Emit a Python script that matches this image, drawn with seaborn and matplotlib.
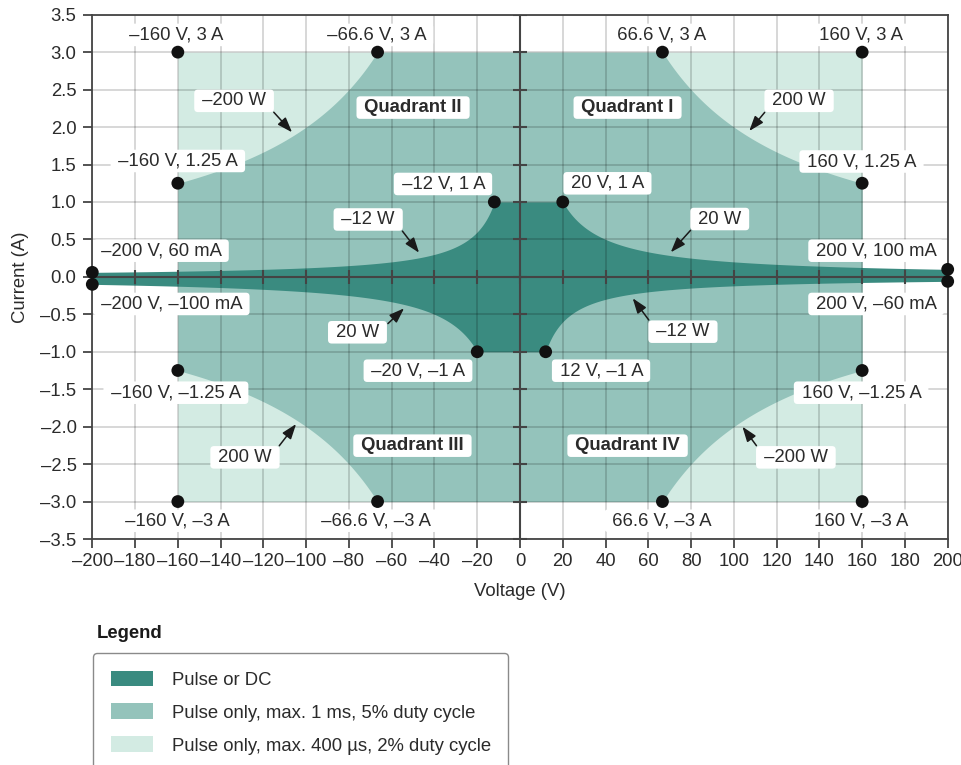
import numpy as np
import matplotlib
matplotlib.use("Agg")
import matplotlib.pyplot as plt
import seaborn as sns
from matplotlib.patches import Patch
from matplotlib.ticker import FuncFormatter

# --- data ---
# voltage / current limits
v_pulse_max = 160        # V, pulse regions end here
v_dc_max = 200           # V, DC band goes to the edge
i_pulse_max = 3.0        # A
i_dc_max = 1.0           # A
# power limits (W) per quadrant for the DC region: I, II, III, IV
dc_power = [20, 12, 20, 12]
pulse_power = 200        # W, boundary between the two pulse regions

# corner points
pt_v = [-160, -66.6, 66.6, 160, -160, 160, -12, 20, -200, -200,
        200, 200, -20, 12, -160, 160, -160, -66.6, 66.6, 160]
pt_i = [3, 3, 3, 3, 1.25, 1.25, 1, 1, 0.06, -0.1,
        0.1, -0.06, -1, -1, -1.25, -1.25, -3, -3, -3, -3]

# plain labels: text, x, y
labels = [
    ("–160 V, 3 A", -161, 3.23), ("–66.6 V, 3 A", -67.3, 3.23),
    ("66.6 V, 3 A", 66.2, 3.23), ("160 V, 3 A", 159.2, 3.23),
    ("–160 V, 1.25 A", -160, 1.547), ("160 V, 1.25 A", 159.7, 1.54),
    ("–12 V, 1 A", -36, 1.24), ("20 V, 1 A", 40.9, 1.249),
    ("–200 V, 60 mA", -167.9, 0.349), ("200 V, 100 mA", 166.5, 0.349),
    ("–200 V, –100 mA", -163, -0.362), ("200 V, –60 mA", 166.5, -0.362),
    ("–20 V, –1 A", -47.7, -1.253), ("12 V, –1 A", 37.9, -1.253),
    ("–160 V, –1.25 A", -160.9, -1.547), ("160 V, –1.25 A", 159.5, -1.547),
    ("–160 V, –3 A", -160.6, -3.256), ("–66.6 V, –3 A", -67.6, -3.256),
    ("66.6 V, –3 A", 66.2, -3.256), ("160 V, –3 A", 159.2, -3.256),
]
quadrants = [("Quadrant II", -50, 2.26), ("Quadrant I", 50.3, 2.26),
             ("Quadrant III", -50.3, -2.254), ("Quadrant IV", 50.3, -2.254)]
# arrow labels: text, x, y, tip x, tip y, arrow start on box
arrows = [
    ("–200 W", -133.7, 2.35, -106.6, 1.93, (1, 0)),
    ("200 W", 130.5, 2.35, 107.2, 1.947, (0, 0)),
    ("–12 W", -71, 0.766, -47.2, 0.322, (1, 0)),
    ("20 W", 93.4, 0.772, 70.5, 0.328, (0, 0)),
    ("20 W", -76, -0.74, -54.2, -0.42, (1, 0.8)),
    ("–12 W", 76.2, -0.732, 52.7, -0.286, (0, 1)),
    ("200 W", -128.6, -2.41, -104.7, -1.965, (1, 1)),
    ("–200 W", 129, -2.41, 104, -2.0, (0, 1)),
]
legend_labels = ["Pulse or DC", "Pulse only, max. 1 ms, 5% duty cycle",
                 "Pulse only, max. 400 µs, 2% duty cycle"]
x_ticks = np.arange(-200, 201, 20)
y_ticks = np.arange(-3.5, 3.51, 0.5)

c_dark, c_mid, c_light = "#3a8b80", "#94c3bb", "#d3ebe3"
txt = "#2b2b2b"
axc = "#444444"
fs = 13.3

sns.set_style("white")
plt.rcParams["font.family"] = ["Liberation Sans", "DejaVu Sans"]
plt.rcParams["font.size"] = fs

fig = plt.figure(figsize=(9.62, 7.65), dpi=100)
ax = fig.add_axes([92.3 / 962, 1 - 539 / 765, 855.4 / 962, 524.3 / 765])

# light region: full pulse rectangle
vp = np.linspace(-v_pulse_max, v_pulse_max, 1601)
ax.fill_between(vp, -i_pulse_max, i_pulse_max, color=c_light, lw=0, zorder=1)
# mid region: below the 200 W curve
with np.errstate(divide="ignore"):
    i_mid = np.minimum(i_pulse_max, pulse_power / np.abs(vp))
ax.fill_between(vp, -i_mid, i_mid, color=c_mid, lw=0, zorder=1.1)
# dark region: DC limits
vd = np.linspace(-v_dc_max, v_dc_max, 4001)
av = np.abs(vd)
with np.errstate(divide="ignore"):
    up = np.where(vd >= 0, np.minimum(i_dc_max, dc_power[0] / av),
                  np.minimum(i_dc_max, dc_power[1] / av))
    lo = np.where(vd >= 0, -np.minimum(i_dc_max, dc_power[3] / av),
                  -np.minimum(i_dc_max, dc_power[2] / av))
ax.fill_between(vd, lo, up, color=c_dark, lw=0, zorder=1.2)

ax.set_xlim(-200, 200)
ax.set_ylim(-3.5, 3.5)
ax.set_xticks(x_ticks)
ax.set_yticks(y_ticks)
ax.xaxis.set_major_formatter(FuncFormatter(lambda v, p: f"{v:.0f}".replace("-", "–")))
ax.yaxis.set_major_formatter(FuncFormatter(lambda v, p: f"{v:.1f}".replace("-", "–")))
ax.grid(True, color="black", alpha=0.17, lw=1.3, zorder=1.5)
ax.set_axisbelow("line")
for s in ax.spines.values():
    s.set_color(axc)
    s.set_linewidth(1.3)
    s.set_zorder(3)
ax.tick_params(direction="out", length=6.3, width=1.3, color=axc,
               labelcolor=txt, labelsize=fs, pad=4, bottom=True, left=True)
ax.tick_params(axis="y", pad=5)

# centre axes with crossing ticks
ax.axhline(0, color=axc, lw=1.5, zorder=3)
ax.axvline(0, color=axc, lw=1.5, zorder=3)
ax.plot(x_ticks, np.zeros_like(x_ticks), ls="none", marker="|", ms=9.5,
        mew=1.5, color=axc, zorder=3)
ax.plot(np.zeros_like(y_ticks), y_ticks, ls="none", marker="_", ms=9.5,
        mew=1.5, color=axc, zorder=3)

ax.set_xlabel("Voltage (V)", color=txt, fontsize=fs, labelpad=9)
ax.set_ylabel("Current (A)", color=txt, fontsize=fs, labelpad=8)

box = dict(boxstyle="round,pad=0.15,rounding_size=0.2", fc="white", ec="none")
for t, x, y in labels:
    ax.text(x, y, f" {t} ", ha="center", va="center", color=txt, fontsize=fs,
            bbox=box, zorder=6)
for t, x, y in quadrants:
    ax.text(x, y, f" {t} ", ha="center", va="center", color=txt, fontsize=fs,
            fontweight="bold", bbox=box, zorder=6)
for t, x, y, tx, ty, rp in arrows:
    ax.annotate(f" {t} ", xy=(tx, ty), xytext=(x, y), ha="center", va="center",
                color=txt, fontsize=fs, bbox=box, zorder=6,
                arrowprops=dict(arrowstyle="-|>,head_length=0.7,head_width=0.25",
                                color="#1a1a1a", lw=1.1, shrinkA=1, shrinkB=0,
                                relpos=rp, mutation_scale=13))

sns.scatterplot(x=pt_v, y=pt_i, ax=ax, color="#111111", s=85, edgecolor="none",
                zorder=7, clip_on=False)

# legend
fig.text(97 / 962, 1 - 634 / 765, "Legend", fontsize=fs, fontweight="bold",
         color="#1a1a1a", va="center", ha="left")
handles = [Patch(facecolor=c, edgecolor="none") for c in (c_dark, c_mid, c_light)]
leg = fig.legend(handles, legend_labels, loc="upper left",
                 bbox_to_anchor=(93 / 962, 1 - 653 / 765), borderaxespad=0,
                 fontsize=fs, frameon=True, fancybox=True, handlelength=2.3,
                 handleheight=0.92, handletextpad=1.0, borderpad=0.95,
                 labelspacing=0.8)
fr = leg.get_frame()
fr.set_edgecolor("#8a8a8a")
fr.set_linewidth(1.0)
fr.set_alpha(1)
for t in leg.get_texts():
    t.set_color(txt)

fig.savefig("out.png", dpi=100)
